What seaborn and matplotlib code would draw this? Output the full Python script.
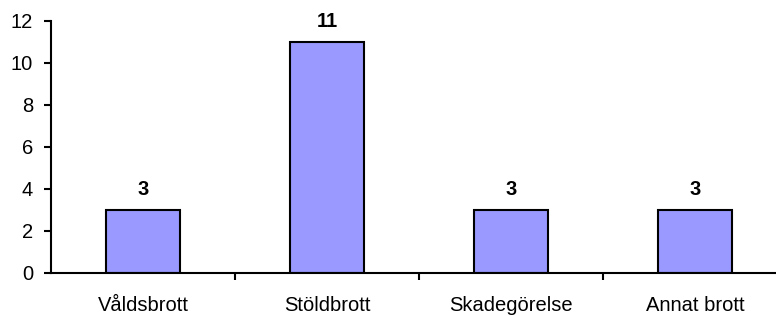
import matplotlib.pyplot as plt
import seaborn as sns
import pandas as pd

categories = ["Våldsbrott", "Stöldbrott", "Skadegörelse", "Annat brott"]
counts = [3, 11, 3, 3]
y_ticks = [0, 2, 4, 6, 8, 10, 12]

df = pd.DataFrame({"kategori": categories, "antal": counts})

sns.set_style("white")
plt.rcParams["font.family"] = ["Liberation Sans", "DejaVu Sans"]
plt.rcParams["text.color"] = "black"
plt.rcParams["xtick.color"] = "black"
plt.rcParams["ytick.color"] = "black"

fig = plt.figure(figsize=(7.76, 3.16), dpi=100)
ax = fig.add_axes([51 / 776, 43 / 316, 736 / 776, 252 / 316])

sns.barplot(data=df, x="kategori", y="antal", color="#9999FF",
            saturation=1, width=0.4, edgecolor="black", linewidth=1.5, ax=ax)

for i, v in enumerate(counts):
    ax.annotate(str(v), (i, v), xytext=(0, 8), textcoords="offset points",
                ha="center", va="bottom", fontsize=14.5, fontweight="bold",
                color="black")

ax.set_xlim(-0.5, 3.5)
ax.set_ylim(0, 12)
ax.set_yticks(y_ticks)
ax.set_xlabel("")
ax.set_ylabel("")

ax.set_xticks([0.5, 1.5, 2.5], minor=True)
ax.tick_params(axis="x", which="major", length=0, pad=16.5, labelsize=14.5)
ax.tick_params(axis="x", which="minor", length=5, width=1.5, direction="out", bottom=True)
ax.tick_params(axis="y", length=5, width=1.5, direction="out", left=True, pad=8, labelsize=14.5)

sns.despine(ax=ax, top=True, right=True)
for side in ["left", "bottom"]:
    ax.spines[side].set_color("black")
    ax.spines[side].set_linewidth(1.5)

fig.savefig("out.png", dpi=100)
